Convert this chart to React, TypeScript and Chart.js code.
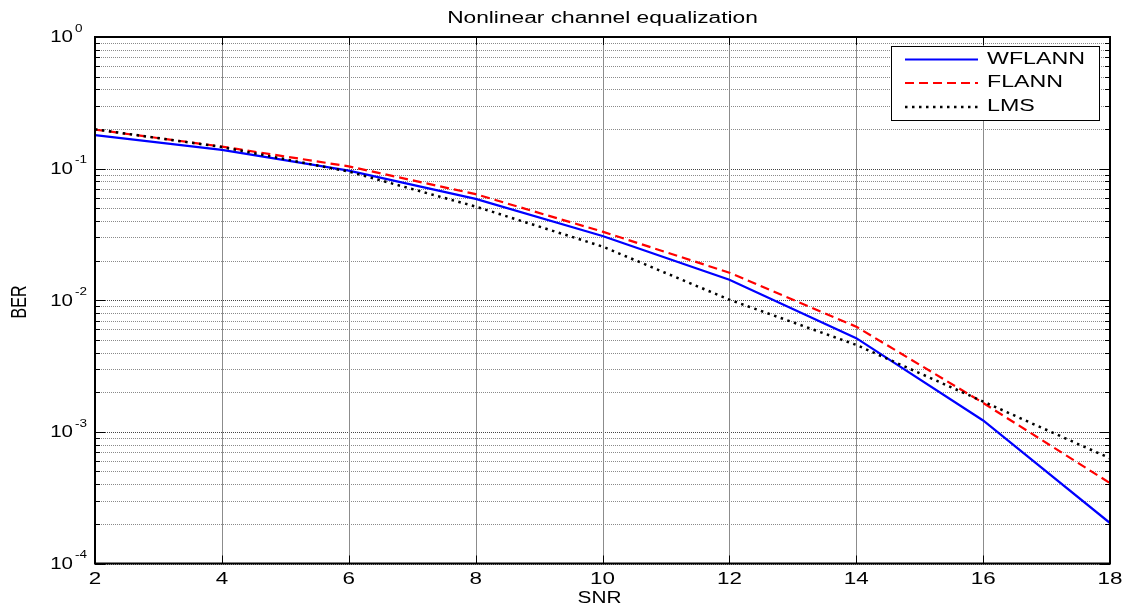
import React, { useEffect, useRef } from "react";
import { Chart, registerables } from "chart.js";

Chart.register(...registerables);

const snr = [2, 4, 6, 8, 10, 12, 14, 16, 18];
const wflann = [0.18, 0.139, 0.0966, 0.0589, 0.0308, 0.0143, 0.00515, 0.00122, 0.000203];
const flann = [0.198, 0.147, 0.104, 0.064, 0.0332, 0.0162, 0.0063, 0.00166, 0.000408];
const lms = [0.199, 0.146, 0.095, 0.0515, 0.0256, 0.0101, 0.00458, 0.0017, 0.00063];

const xTicks = [2, 4, 6, 8, 10, 12, 14, 16, 18];
const yDecades = [-4, -3, -2, -1, 0];
const seriesNames = ["WFLANN", "FLANN", "LMS"];
const titleText = "Nonlinear channel equalization";
const xLabel = "SNR";
const yLabel = "BER";

const FONT = '"Liberation Sans", Arial, Helvetica, sans-serif';
const SX = 1.4;

function txt(
  ctx: CanvasRenderingContext2D,
  s: string,
  x: number,
  y: number,
  align: CanvasTextAlign,
  size: number,
  sx: number = SX
) {
  ctx.save();
  ctx.font = `${size}px ${FONT}`;
  ctx.fillStyle = "#000";
  ctx.translate(x, y);
  ctx.scale(sx, 1);
  ctx.textAlign = align;
  ctx.textBaseline = "middle";
  ctx.fillText(s, 0, 0);
  ctx.restore();
}

const matlabPlugin = {
  id: "matlabLook",
  beforeDatasetsDraw(chart: any) {
    const ctx: CanvasRenderingContext2D = chart.ctx;
    const { left, right, top, bottom } = chart.chartArea;
    const xs = chart.scales.x;
    const ys = chart.scales.y;
    ctx.save();
    // horizontal dotted grid (log decades + minors)
    for (let d = yDecades[0]; d < yDecades[yDecades.length - 1]; d++) {
      for (let m = 1; m <= 9; m++) {
        const v = m * Math.pow(10, d);
        const py = Math.round(ys.getPixelForValue(v)) + 0.5;
        ctx.beginPath();
        ctx.setLineDash([1, 1]);
        ctx.lineWidth = 1;
        ctx.strokeStyle = m === 1 ? "#444" : "#8a8a8a";
        ctx.moveTo(left, py);
        ctx.lineTo(right, py);
        ctx.stroke();
        // inward ticks
        const tl = m === 1 ? 10 : 5;
        ctx.setLineDash([]);
        ctx.strokeStyle = "#000";
        ctx.beginPath();
        ctx.moveTo(left, py);
        ctx.lineTo(left + tl, py);
        ctx.moveTo(right, py);
        ctx.lineTo(right - tl, py);
        ctx.stroke();
      }
    }
    // vertical grid
    ctx.setLineDash([]);
    for (const t of xTicks) {
      const px = Math.round(xs.getPixelForValue(t)) + 0.5;
      ctx.beginPath();
      ctx.strokeStyle = "#8c8c8c";
      ctx.lineWidth = 1;
      ctx.moveTo(px, top);
      ctx.lineTo(px, bottom);
      ctx.stroke();
      ctx.beginPath();
      ctx.strokeStyle = "#000";
      ctx.moveTo(px, bottom);
      ctx.lineTo(px, bottom - 8);
      ctx.moveTo(px, top);
      ctx.lineTo(px, top + 8);
      ctx.stroke();
    }
    ctx.restore();
  },
  afterDraw(chart: any) {
    const ctx: CanvasRenderingContext2D = chart.ctx;
    const { left, right, top, bottom } = chart.chartArea;
    const xs = chart.scales.x;
    const ys = chart.scales.y;
    ctx.save();
    // axes box
    ctx.setLineDash([]);
    ctx.strokeStyle = "#000";
    ctx.lineWidth = 2;
    ctx.strokeRect(left, top, right - left, bottom - top);

    // x tick labels
    for (const t of xTicks) {
      txt(ctx, String(t), xs.getPixelForValue(t), bottom + 16, "center", 16);
    }
    // y tick labels with superscripts
    for (const d of yDecades) {
      const py = ys.getPixelForValue(Math.pow(10, d));
      txt(ctx, "10", 73, py + 1, "right", 16, 1.28);
      txt(ctx, String(d), 75, py - 8, "left", 10, 1.35);
    }
    // title
    txt(ctx, titleText, (left + right) / 2, 19, "center", 16, 1.42);
    // x label
    txt(ctx, xLabel, (left + right) / 2 - 3, 599, "center", 16, 1.3);
    // y label (rotated)
    ctx.save();
    ctx.translate(20, 302);
    ctx.scale(1.4, 1);
    ctx.rotate(-Math.PI / 2);
    ctx.font = `16px ${FONT}`;
    ctx.fillStyle = "#000";
    ctx.textAlign = "center";
    ctx.textBaseline = "middle";
    ctx.fillText(yLabel, 0, 0);
    ctx.restore();

    // legend
    const lx = 891, ly = 46, lw = 208, lh = 74;
    ctx.fillStyle = "#fff";
    ctx.fillRect(lx, ly, lw, lh);
    ctx.strokeStyle = "#000";
    ctx.lineWidth = 1;
    ctx.strokeRect(lx + 0.5, ly + 0.5, lw, lh);
    const rows = [59.5, 83, 107];
    chart.data.datasets.forEach((ds: any, i: number) => {
      const y = rows[i];
      ctx.beginPath();
      ctx.setLineDash(ds.borderDash || []);
      ctx.strokeStyle = ds.borderColor;
      ctx.lineWidth = ds.borderWidth;
      ctx.moveTo(905, y);
      ctx.lineTo(978, y);
      ctx.stroke();
      ctx.setLineDash([]);
      txt(ctx, ds.label, 987, y, "left", 16, 1.45);
    });
    ctx.restore();
  },
};

export default function App() {
  const ref = useRef<HTMLCanvasElement | null>(null);
  useEffect(() => {
    if (!ref.current) return;
    const mk = (arr: number[]) => snr.map((x, i) => ({ x, y: arr[i] }));
    const chart = new Chart(ref.current, {
      type: "line",
      data: {
        datasets: [
          {
            label: seriesNames[0],
            data: mk(wflann),
            borderColor: "#0000ff",
            borderWidth: 2.2,
            pointRadius: 0,
            tension: 0,
            order: 2,
          },
          {
            label: seriesNames[1],
            data: mk(flann),
            borderColor: "#ff0000",
            borderWidth: 2.2,
            borderDash: [9, 5],
            pointRadius: 0,
            tension: 0,
            order: 1,
          },
          {
            label: seriesNames[2],
            data: mk(lms),
            borderColor: "#000000",
            borderWidth: 2.5,
            borderDash: [2.5, 4.5],
            pointRadius: 0,
            tension: 0,
            order: 0,
          },
        ],
      },
      options: {
        animation: false,
        responsive: false,
        devicePixelRatio: 1,
        layout: { padding: { top: 37, right: 18, left: 0, bottom: 0 } },
        plugins: {
          legend: { display: false },
          title: { display: false },
          tooltip: { enabled: false },
        },
        scales: {
          x: {
            type: "linear",
            min: 2,
            max: 18,
            ticks: { display: false, stepSize: 2 },
            grid: { display: false },
            border: { display: false },
            afterFit: (s: any) => {
              s.height = 46.5;
            },
          },
          y: {
            type: "logarithmic",
            min: 1e-4,
            max: 1,
            ticks: { display: false },
            grid: { display: false },
            border: { display: false },
            afterFit: (s: any) => {
              s.width = 95;
            },
          },
        },
      },
      plugins: [matlabPlugin],
    });
    return () => chart.destroy();
  }, []);
  return (
    <div style={{ position: "absolute", left: 0, top: 0, width: 1128, height: 610, background: "#fff" }}>
      <canvas ref={ref} width={1128} height={610} style={{ display: "block" }} />
    </div>
  );
}
